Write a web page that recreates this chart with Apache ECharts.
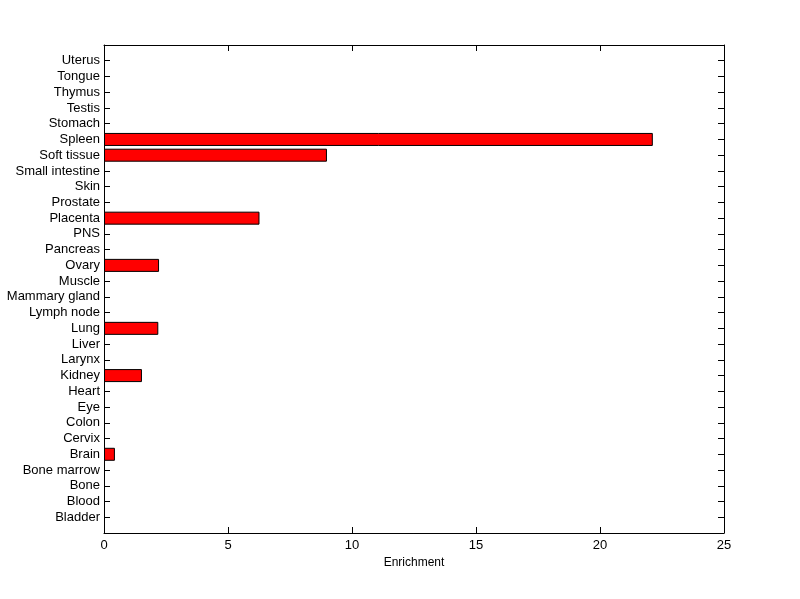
<!DOCTYPE html>
<html>
<head>
<meta charset="utf-8">
<script src="https://cdn.jsdelivr.net/npm/echarts@6/dist/echarts.min.js"></script>
<style>html,body{margin:0;padding:0;background:#fff}#c{width:800px;height:599px}</style>
</head>
<body>
<div id="c"></div>
<script>
var categories = ['Bladder','Blood','Bone','Bone marrow','Brain','Cervix','Colon','Eye','Heart','Kidney','Larynx','Liver','Lung','Lymph node','Mammary gland','Muscle','Ovary','Pancreas','PNS','Placenta','Prostate','Skin','Small intestine','Soft tissue','Spleen','Stomach','Testis','Thymus','Tongue','Uterus'];
var enrichment = [0,0,0,0,0.44,0,0,0,0,1.53,0,0,2.19,0,0,0,2.22,0,0,6.27,0,0,0,8.99,22.13,0,0,0,0,0];
var xTicks = [0,5,10,15,20,25];

var cats = [''].concat(categories).concat(['']);
var data = [null].concat(enrichment.map(function(v){return v>0?v:null;})).concat([null]);
var font = 'Liberation Sans, Arial, sans-serif';
var chart = echarts.init(document.getElementById('c'));
chart.setOption({
  animation:false,
  backgroundColor:'#fff',
  grid:{left:104,right:76,top:45,bottom:66,containLabel:false},
  xAxis:[{
    type:'value',min:0,max:25,interval:5,position:'bottom',
    name:'Enrichment',nameLocation:'middle',nameGap:24,
    nameTextStyle:{color:'#000',fontSize:12,fontFamily:font},
    axisLine:{show:true,onZero:false,lineStyle:{color:'#000',width:1}},
    axisTick:{show:true,inside:true,length:6,lineStyle:{color:'#000'}},
    axisLabel:{color:'#000',fontSize:13,fontFamily:font,margin:6,formatter:function(v){return xTicks.indexOf(v)>=0?String(v):'';}},
    splitLine:{show:false}
  },{
    type:'value',min:0,max:25,interval:5,position:'top',
    axisLine:{show:true,onZero:false,lineStyle:{color:'#000',width:1}},
    axisTick:{show:true,inside:true,length:6,lineStyle:{color:'#000'}},
    axisLabel:{show:false},splitLine:{show:false}
  }],
  yAxis:[{
    type:'category',data:cats,boundaryGap:false,position:'left',
    axisLine:{show:true,onZero:false,lineStyle:{color:'#000',width:1}},
    axisTick:{show:true,inside:true,length:6,interval:0,lineStyle:{color:'#000'}},
    axisLabel:{color:'#000',fontSize:13,fontFamily:font,margin:4,interval:0},
    splitLine:{show:false}
  },{
    type:'category',data:cats,boundaryGap:false,position:'right',
    axisLine:{show:true,onZero:false,lineStyle:{color:'#000',width:1}},
    axisTick:{show:true,inside:true,length:6,interval:0,lineStyle:{color:'#000'}},
    axisLabel:{show:false},splitLine:{show:false}
  }],
  series:[{
    type:'bar',xAxisIndex:0,yAxisIndex:0,data:data,barWidth:13,
    itemStyle:{color:'#ff0000',borderColor:'#000',borderWidth:1}
  }]
});
</script>
</body>
</html>
